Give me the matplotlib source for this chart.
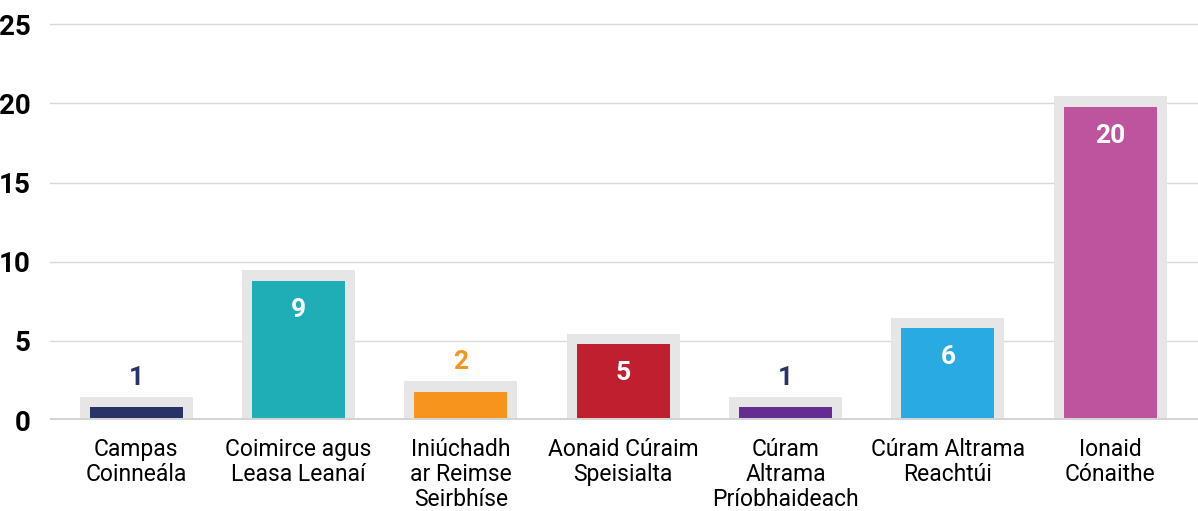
import matplotlib
matplotlib.use("Agg")
import matplotlib.pyplot as plt
from matplotlib import font_manager

categories = ["Campas\nCoinneála", "Coimirce agus\nLeasa Leanaí",
              "Iniúchadh\nar Reimse\nSeirbhíse", "Aonaid Cúraim\nSpeisialta",
              "Cúram\nAltrama\nPríobhaideach", "Cúram Altrama\nReachtúi",
              "Ionaid\nCónaithe"]
values = [1, 9, 2, 5, 1, 6, 20]
colors = ["#283468", "#20aeb6", "#f7941d", "#c01f2f",
          "#662d91", "#29aae1", "#bf549e"]
label_colors = ["#283468", "white", "#f7941d", "white",
                "#283468", "white", "white"]
yticks = [0, 5, 10, 15, 20, 25]

names = {f.name for f in font_manager.fontManager.ttflist}
font = "Liberation Sans Narrow" if "Liberation Sans Narrow" in names else "Roboto"
plt.rcParams["font.family"] = [font, "DejaVu Sans"]

fig = plt.figure(figsize=(11.98, 5.11), dpi=100)
ax = fig.add_axes([50 / 1198, 91 / 511, 1148 / 1198, 399 / 511])

x = range(len(values))
# grey frame behind, coloured bar in front
ax.bar(x, [v + 0.45 for v in values], width=0.696, color="#e6e6e6", zorder=2)
ax.bar(x, [v - 0.2 for v in values], width=0.573, color=colors, zorder=3)

for i, v in enumerate(values):
    if v < 3:
        ax.annotate(str(v), (i, v + 0.45), xytext=(0, 7), textcoords="offset pixels",
                    ha="center", va="bottom", fontsize=19, fontweight="bold",
                    color=label_colors[i], zorder=4)
    else:
        ax.annotate(str(v), (i, v - 0.2), xytext=(0, -17), textcoords="offset pixels",
                    ha="center", va="top", fontsize=19, fontweight="bold",
                    color=label_colors[i], zorder=4)

ax.axhline(0, color="#d4d4d4", lw=3.6, zorder=4)
ax.set_xlim(-0.53, 6.54)
ax.set_ylim(0, 25.2)
ax.set_yticks(yticks)
ax.set_yticklabels([str(t) for t in yticks], fontsize=20, fontweight="bold")
ax.set_xticks(list(x))
ax.set_xticklabels(categories, fontsize=16.5, linespacing=1.12, multialignment="center")
ax.tick_params(axis="y", length=0, pad=14)
ax.tick_params(axis="x", length=0, pad=13)
ax.grid(axis="y", color="#d9d9d9", lw=1, zorder=0)
for s in ax.spines.values():
    s.set_visible(False)

fig.savefig("out.png", dpi=100)
